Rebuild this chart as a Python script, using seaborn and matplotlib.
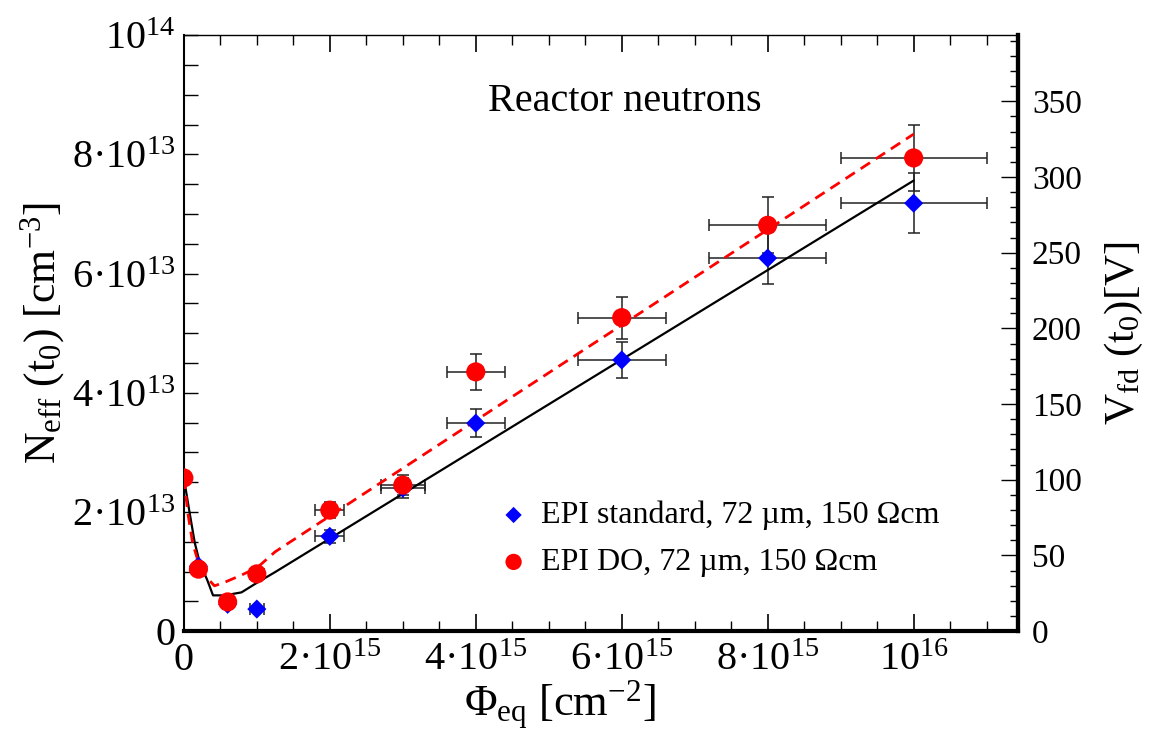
import numpy as np
import pandas as pd
import matplotlib
matplotlib.use("Agg")
import matplotlib.pyplot as plt
from matplotlib.ticker import MultipleLocator, FixedLocator, FixedFormatter
import seaborn as sns

# ---------------- data (fluence in 1e15 cm^-2, Neff in 1e13 cm^-3) ----------------
fluence = [0.0, 0.2, 0.6, 1.0, 2.0, 3.0, 4.0, 6.0, 8.0, 10.0]
fluence_err = [0.0, 0.02, 0.06, 0.1, 0.2, 0.3, 0.4, 0.6, 0.8, 1.0]

neff_std = [2.57, 1.09, 0.45, 0.37, 1.59, 2.40, 3.49, 4.55, 6.26, 7.18]
neff_std_err = [0.0, 0.05, 0.03, 0.03, 0.11, 0.17, 0.23, 0.30, 0.44, 0.50]

neff_do = [2.57, 1.04, 0.49, 0.96, 2.03, 2.45, 4.35, 5.26, 6.81, 7.94]
neff_do_err = [0.0, 0.05, 0.03, 0.06, 0.14, 0.17, 0.30, 0.35, 0.47, 0.55]

# model curves
fit_std_x = [0.0, 0.08, 0.15, 0.22, 0.32, 0.40, 0.56, 0.79, 1.0, 1.25, 10.0]
fit_std_y = [2.57, 1.98, 1.48, 1.14, 0.86, 0.60, 0.60, 0.65, 0.81, 0.99, 7.56]

fit_do_x = [0.0, 0.055, 0.12, 0.22, 0.32, 0.42, 0.56, 0.79, 1.01, 1.25, 10.0]
fit_do_y = [2.57, 1.98, 1.48, 1.07, 0.89, 0.76, 0.82, 0.94, 1.07, 1.33, 8.34]

label_std = "EPI standard, 72 µm, 150 Ωcm"
label_do = "EPI DO, 72 µm, 150 Ωcm"

x_ticks = [0, 2, 4, 6, 8, 10]
x_ticklabels = ["0", "2·10$^{15}$", "4·10$^{15}$", "6·10$^{15}$", "8·10$^{15}$", "10$^{16}$"]
y_ticks = [0, 2, 4, 6, 8, 10]
y_ticklabels = ["0", "2·10$^{13}$", "4·10$^{13}$", "6·10$^{13}$", "8·10$^{13}$", "10$^{14}$"]
v_ticks = [0, 50, 100, 150, 200, 250, 300, 350]

V_PER_1E13 = 39.37  # full depletion voltage per 1e13 cm^-3 for 72 um

# ---------------- style ----------------
sns.set_theme(style="ticks")
plt.rcParams["font.family"] = ["Liberation Serif", "DejaVu Serif"]
plt.rcParams["mathtext.fontset"] = "custom"
plt.rcParams["mathtext.rm"] = "Liberation Serif"
plt.rcParams["mathtext.it"] = "Liberation Serif:italic"
plt.rcParams["mathtext.bf"] = "Liberation Serif:bold"
plt.rcParams["mathtext.fallback"] = "stix"
for key in ["text.color", "axes.labelcolor", "xtick.color", "ytick.color", "axes.edgecolor"]:
    plt.rcParams[key] = "black"

fig = plt.figure(figsize=(11.49, 7.33), dpi=100)
ax = fig.add_axes([0.160, 0.139, 0.726, 0.813])

df_std = pd.DataFrame({"x": fluence, "y": neff_std})
df_do = pd.DataFrame({"x": fluence, "y": neff_do})
df_fstd = pd.DataFrame({"x": fit_std_x, "y": fit_std_y})
df_fdo = pd.DataFrame({"x": fit_do_x, "y": fit_do_y})

# error bars
ax.errorbar(fluence, neff_std, xerr=fluence_err, yerr=neff_std_err, fmt="none",
            ecolor="#222222", elinewidth=1.1, capsize=4, capthick=1.1, zorder=2)
ax.errorbar(fluence, neff_do, xerr=fluence_err, yerr=neff_do_err, fmt="none",
            ecolor="#222222", elinewidth=1.1, capsize=4, capthick=1.1, zorder=2)

# fit curves
sns.lineplot(data=df_fstd, x="x", y="y", ax=ax, color="black", lw=1.6,
             sort=False, estimator=None, zorder=3, legend=False)
sns.lineplot(data=df_fdo, x="x", y="y", ax=ax, color="#ff0000", lw=2.0,
             sort=False, estimator=None, zorder=3, legend=False,
             dashes=False, linestyle=(0, (4, 2.5)))

# markers
sns.scatterplot(data=df_std, x="x", y="y", ax=ax, marker="D", s=95, color="#0000ff",
                edgecolor="none", zorder=4, label=label_std)
sns.scatterplot(data=df_do, x="x", y="y", ax=ax, marker="o", s=190, color="#ff0000",
                edgecolor="none", zorder=5, label=label_do)

ax.set_xlim(0, 11.43)
ax.set_ylim(0, 10)

ax.xaxis.set_major_locator(FixedLocator(x_ticks))
ax.xaxis.set_major_formatter(FixedFormatter(x_ticklabels))
ax.xaxis.set_minor_locator(MultipleLocator(0.5))
ax.yaxis.set_major_locator(FixedLocator(y_ticks))
ax.yaxis.set_major_formatter(FixedFormatter(y_ticklabels))
ax.yaxis.set_minor_locator(MultipleLocator(0.5))

ax.tick_params(axis="x", which="major", direction="in", length=12, width=1.2,
               top=True, labelsize=29, pad=8)
ax.tick_params(axis="x", which="minor", direction="in", length=7, width=1.0, top=True)
ax.tick_params(axis="y", which="major", direction="in", length=10, width=1.0,
               right=False, labelsize=29, pad=6)
ax.tick_params(axis="y", which="minor", direction="in", length=10, width=1.0, right=False)

for side, lw in [("left", 1.5), ("bottom", 3.0), ("top", 1.0), ("right", 3.0)]:
    ax.spines[side].set_linewidth(lw)
    ax.spines[side].set_color("black")

ax.set_xlabel("Φ$_{\\mathrm{eq}}$ [cm$^{-2}$]", fontsize=32, labelpad=0)
ax.xaxis.set_label_coords(0.451, -0.080)
ax.set_ylabel("N$_{\\mathrm{eff}}$ (t$_0$) [cm$^{-3}$]", fontsize=31.5, labelpad=4)

# right axis: depletion voltage
ax2 = ax.twinx()
ax2.set_ylim(0, 10 * V_PER_1E13)
ax2.yaxis.set_major_locator(FixedLocator(v_ticks))
ax2.yaxis.set_minor_locator(MultipleLocator(10))
ax2.tick_params(axis="y", which="major", direction="in", length=12, width=1.0,
                labelsize=24, pad=10)
ax2.tick_params(axis="y", which="minor", direction="in", length=6, width=1.0)
for side in ["left", "bottom", "top"]:
    ax2.spines[side].set_visible(False)
ax2.spines["right"].set_linewidth(3.0)
ax2.set_ylabel("V$_{\\mathrm{fd}}$ (t$_0$)[V]", fontsize=31, labelpad=15)
ax2.grid(False)

ax.text(0.529, 0.889, "Reactor neutrons", transform=ax.transAxes, fontsize=29,
        ha="center", va="center")

leg = ax.legend(loc="upper left", bbox_to_anchor=(0.357, 0.240), frameon=False,
                fontsize=23, handletextpad=0.25, labelspacing=0.55,
                borderaxespad=0, markerscale=0.85, handlelength=1.2)

fig.savefig("out.png", dpi=100)
